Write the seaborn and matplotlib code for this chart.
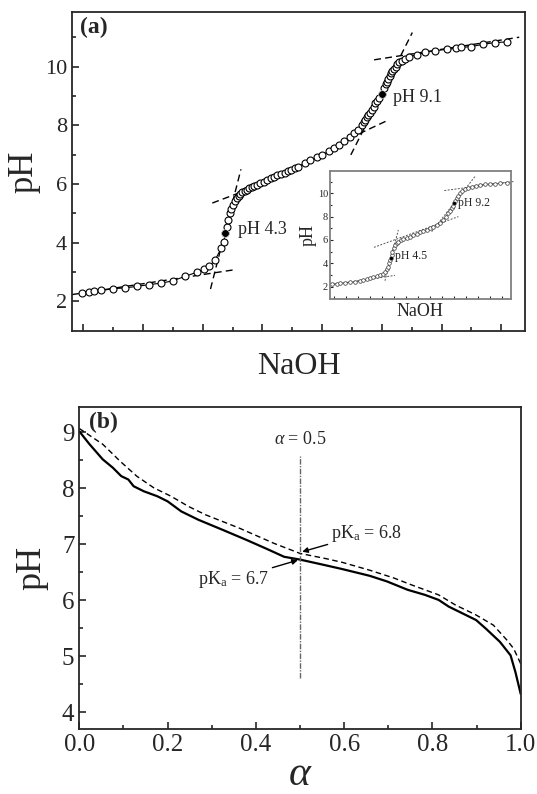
import numpy as np
import pandas as pd
import matplotlib
matplotlib.use("Agg")
import matplotlib.pyplot as plt
import seaborn as sns

# ---- data: (a) titration curve (NaOH in arbitrary units, pH) ----
naoh = [-0.02, 0.09, 0.18, 0.30, 0.50, 0.70, 0.90, 1.10, 1.30, 1.50, 1.70, 1.90,
        2.02, 2.11, 2.21, 2.31, 2.35, 2.38, 2.41, 2.43, 2.45, 2.48, 2.51, 2.54,
        2.57, 2.60, 2.63, 2.66, 2.70, 2.74, 2.78, 2.82, 2.86, 2.91, 2.96, 3.02,
        3.08, 3.14, 3.20, 3.25, 3.31, 3.37, 3.43, 3.48, 3.54, 3.60, 3.71, 3.80,
        3.91, 4.00, 4.11, 4.20, 4.29, 4.37, 4.46, 4.54, 4.60, 4.66, 4.70, 4.72,
        4.75, 4.77, 4.80, 4.83, 4.86, 4.89, 4.92, 4.95, 5.00, 5.04, 5.07, 5.09,
        5.11, 5.13, 5.15, 5.17, 5.20, 5.23, 5.26, 5.29, 5.33, 5.38, 5.46, 5.58,
        5.72, 5.89, 6.09, 6.24, 6.32, 6.49, 6.70, 6.90, 7.10]
ph_a = [2.30, 2.33, 2.34, 2.37, 2.43, 2.46, 2.51, 2.57, 2.62, 2.70, 2.85, 2.99,
        3.10, 3.19, 3.42, 3.81, 4.01, 4.32, 4.55, 4.78, 5.00, 5.15, 5.30, 5.42,
        5.52, 5.60, 5.66, 5.71, 5.76, 5.80, 5.85, 5.89, 5.93, 5.97, 6.02, 6.08,
        6.14, 6.19, 6.24, 6.29, 6.34, 6.39, 6.44, 6.48, 6.54, 6.59, 6.71, 6.80,
        6.91, 6.99, 7.11, 7.22, 7.33, 7.45, 7.59, 7.73, 7.84, 8.01, 8.10, 8.18,
        8.27, 8.35, 8.43, 8.52, 8.63, 8.75, 8.84, 8.92, 9.06, 9.26, 9.40, 9.49,
        9.59, 9.68, 9.77, 9.85, 9.93, 10.00, 10.08, 10.14, 10.20, 10.25, 10.34, 10.40,
        10.48, 10.54, 10.59, 10.62, 10.65, 10.68, 10.76, 10.82, 10.84]
eq_naoh = [2.38, 5.00]
eq_ph = [4.32, 9.06]
eq_labels = ["pH 4.3", "pH 9.1"]
# tangent segments (x0, x1), (y0, y1)
tan_x = [(-0.19, 2.54), (2.13, 2.64), (2.16, 2.85), (4.45, 5.09), (4.48, 5.51), (4.87, 7.30)]
tan_y = [(2.23, 3.08), (2.42, 6.50), (5.35, 5.88), (7.55, 8.16), (6.99, 11.16), (10.23, 11.00)]

# ---- inset ----
ins_x = [-0.22, 0.20, 0.47, 0.90, 1.31, 1.72, 2.14, 2.42, 2.70, 2.98, 3.26, 3.54,
         3.82, 4.05, 4.23, 4.40, 4.51, 4.60, 4.65, 4.74, 4.80, 4.85, 4.95, 5.07,
         5.20, 5.35, 5.55, 5.77, 6.05, 6.32, 6.60, 6.88, 7.16, 7.44, 7.72, 8.00,
         8.28, 8.55, 8.85, 9.11, 9.32, 9.53, 9.68, 9.81, 9.90, 10.00, 10.11, 10.22,
         10.36, 10.50, 10.70, 10.92, 11.20, 11.48, 11.80, 12.17, 12.58, 13.00, 13.42,
         13.84, 14.40]
ins_ph = [2.23, 2.26, 2.29, 2.33, 2.37, 2.43, 2.49, 2.55, 2.63, 2.71, 2.80, 2.90,
          3.00, 3.12, 3.29, 3.50, 3.71, 4.00, 4.29, 4.49, 4.75, 5.00, 5.30, 5.57,
          5.73, 5.86, 5.97, 6.06, 6.18, 6.29, 6.40, 6.51, 6.64, 6.77, 6.88, 7.00,
          7.14, 7.29, 7.48, 7.71, 7.98, 8.29, 8.50, 8.71, 8.92, 9.14, 9.36, 9.57,
          9.80, 10.00, 10.20, 10.34, 10.47, 10.57, 10.65, 10.71, 10.76, 10.80, 10.83,
          10.86, 10.91]
ins_eq_x = [4.74, 10.00]
ins_eq_ph = [4.49, 9.14]
ins_labels = ["pH 4.5", "pH 9.2"]
ins_tan_x = [(-0.08, 5.07), (4.23, 5.35), (3.31, 10.36), (8.13, 11.75), (9.19, 14.96)]
ins_tan_y = [(2.20, 2.97), (2.51, 6.86), (5.37, 8.00), (6.71, 11.43), (10.23, 11.00)]

# ---- (b) pH vs degree of neutralisation ----
alpha_s = [0.0, 0.022, 0.053, 0.076, 0.095, 0.111, 0.123, 0.146, 0.177, 0.2, 0.231,
           0.27, 0.325, 0.379, 0.425, 0.464, 0.5, 0.557, 0.596, 0.658, 0.697, 0.744,
           0.783, 0.814, 0.837, 0.868, 0.899, 0.922, 0.953, 0.977, 0.988, 1.0]
ph_s = [9.02, 8.80, 8.52, 8.37, 8.22, 8.16, 8.04, 7.95, 7.86, 7.77, 7.59,
        7.44, 7.26, 7.08, 6.92, 6.78, 6.73, 6.63, 6.56, 6.44, 6.34, 6.19,
        6.10, 6.01, 5.89, 5.77, 5.65, 5.49, 5.26, 5.02, 4.72, 4.33]
alpha_d = [0.0, 0.053, 0.092, 0.13, 0.169, 0.208, 0.247, 0.286, 0.363, 0.441, 0.5,
           0.557, 0.596, 0.658, 0.713, 0.752, 0.814, 0.852, 0.899, 0.938, 0.969,
           0.984, 1.0]
ph_d = [9.07, 8.79, 8.49, 8.22, 8.01, 7.86, 7.68, 7.53, 7.29, 7.02, 6.84,
        6.75, 6.68, 6.54, 6.40, 6.28, 6.10, 5.92, 5.74, 5.56, 5.29,
        5.14, 4.87]

sns.set_style("ticks")
plt.rcParams["font.family"] = ["Liberation Serif", "DejaVu Serif"]
plt.rcParams["mathtext.fontset"] = "custom"
plt.rcParams["mathtext.rm"] = "Liberation Serif"
plt.rcParams["mathtext.it"] = "Liberation Serif:italic"
plt.rcParams["xtick.direction"] = "in"
plt.rcParams["ytick.direction"] = "in"

fig = plt.figure(figsize=(5.37, 7.94), dpi=100)

# ===== panel (a) =====
ax = fig.add_axes([0.134, 0.5835, 0.844, 0.4014])
for (x0, x1), (y0, y1) in zip(tan_x, tan_y):
    sns.lineplot(x=[x0, x1], y=[y0, y1], ax=ax, color="k", lw=1.0,
                 linestyle=(0, (5, 3)), sort=False, estimator=None)
sns.lineplot(x=naoh, y=ph_a, ax=ax, color="k", lw=0.8, marker="o", markersize=5,
             mfc="white", mec="k", mew=0.8, sort=False, estimator=None)
sns.scatterplot(x=eq_naoh, y=eq_ph, ax=ax, color="k", s=30, zorder=5)
ax.text(eq_naoh[0] + 0.21, eq_ph[0] + 0.12, eq_labels[0], fontsize=13, va="center")
ax.text(eq_naoh[1] + 0.19, eq_ph[1] - 0.1, eq_labels[1], fontsize=13, va="center")
ax.set_xlim(-0.19, 7.40)
ax.set_ylim(1.0, 11.86)
ax.set_xticks(np.arange(0, 8))
ax.set_xticks(np.arange(0.5, 7.5, 1), minor=True)
ax.set_yticks([2, 4, 6, 8, 10])
ax.set_yticks([3, 5, 7, 9, 11], minor=True)
ax.set_xticklabels([])
ax.tick_params(axis="both", which="major", length=5, width=1.2, labelsize=16)
ax.tick_params(axis="both", which="minor", length=3, width=1.2)
ax.tick_params(top=False, right=False)
ax.set_xlabel("NaOH", fontsize=23, labelpad=12)
ax.set_ylabel("pH", fontsize=25)
ax.yaxis.set_label_coords(-0.07, 0.5)
ax.text(0.018, 0.985, "(a)", transform=ax.transAxes, fontsize=17,
        fontweight="bold", va="top", ha="left")
for s in ax.spines.values():
    s.set_linewidth(1.3)

# ----- inset -----
axi = fig.add_axes([0.6145, 0.623, 0.3365, 0.1616])
for (x0, x1), (y0, y1) in zip(ins_tan_x, ins_tan_y):
    sns.lineplot(x=[x0, x1], y=[y0, y1], ax=axi, color="#555555", lw=0.7,
                 linestyle=(0, (2, 1.5)), sort=False, estimator=None, clip_on=False)
sns.lineplot(x=ins_x, y=ins_ph, ax=axi, color="#444444", lw=0.5, marker="o",
             markersize=2.6, mfc="white", mec="#333333", mew=0.5,
             sort=False, estimator=None)
sns.scatterplot(x=ins_eq_x, y=ins_eq_ph, ax=axi, color="k", s=8, zorder=5)
axi.text(ins_eq_x[0] + 0.35, ins_eq_ph[0] + 0.1, ins_labels[0], fontsize=8.5, va="center")
axi.text(ins_eq_x[1] + 0.3, ins_eq_ph[1] + 0.05, ins_labels[1], fontsize=8.5, va="center")
axi.set_xlim(-0.36, 14.73)
axi.set_ylim(0.92, 11.9)
axi.set_xticks(np.arange(0, 15))
axi.set_xticklabels([])
axi.set_yticks([2, 4, 6, 8, 10])
axi.set_yticks([3, 5, 7, 9, 11], minor=True)
axi.tick_params(axis="both", which="major", length=2.5, width=0.8, labelsize=7.5, pad=1.5)
axi.tick_params(axis="both", which="minor", length=1.5, width=0.8)
axi.set_xlabel("NaOH", fontsize=13, labelpad=1)
axi.set_ylabel("pH", fontsize=13, labelpad=1)
for s in axi.spines.values():
    s.set_linewidth(1.3)
    s.set_color("#808080")

# ===== panel (b) =====
bx = fig.add_axes([0.1477, 0.0815, 0.822, 0.4063])
sns.lineplot(x=alpha_s, y=ph_s, ax=bx, color="k", lw=1.6, sort=False, estimator=None)
sns.lineplot(x=alpha_d, y=ph_d, ax=bx, color="k", lw=1.0, linestyle=(0, (4, 2.5)),
             sort=False, estimator=None)
sns.lineplot(x=[0.5, 0.5], y=[4.62, 8.58], ax=bx, color="#666666", lw=1.0,
             linestyle=(0, (4, 1, 1, 1)), sort=False, estimator=None)
bx.text(0.5, 8.88, r"$\alpha$ = 0.5", fontsize=13, ha="center", va="center")
bx.annotate(r"pK$_\mathrm{a}$ = 6.8", xy=(0.505, 6.87), xytext=(0.57, 7.2),
            fontsize=13, va="center", ha="left",
            arrowprops=dict(arrowstyle="-|>", color="k", lw=1.0,
                            mutation_scale=8, shrinkA=0, shrinkB=0))
bx.annotate(r"pK$_\mathrm{a}$ = 6.7", xy=(0.495, 6.72), xytext=(0.43, 6.38),
            fontsize=13, va="center", ha="right",
            arrowprops=dict(arrowstyle="-|>", color="k", lw=1.0,
                            mutation_scale=8, shrinkA=0, shrinkB=0))
bx.set_xlim(0, 1)
bx.set_ylim(3.7, 9.46)
bx.set_xticks(np.arange(0, 1.01, 0.2))
bx.set_xticks(np.arange(0.1, 1.0, 0.2), minor=True)
bx.set_xticklabels(["0.0", "0.2", "0.4", "0.6", "0.8", "1.0"])
bx.set_yticks([4, 5, 6, 7, 8, 9])
bx.set_yticks([4.5, 5.5, 6.5, 7.5, 8.5], minor=True)
bx.tick_params(axis="both", which="major", length=5, width=1.2, labelsize=18)
bx.tick_params(axis="both", which="minor", length=3, width=1.2)
bx.set_xlabel(r"$\alpha$", fontsize=30, labelpad=0)
bx.xaxis.set_label_coords(0.5, -0.082)
bx.set_ylabel("pH", fontsize=26)
bx.yaxis.set_label_coords(-0.071, 0.5)
bx.text(0.022, 0.985, "(b)", transform=bx.transAxes, fontsize=17,
        fontweight="bold", va="top", ha="left")
for s in bx.spines.values():
    s.set_linewidth(1.3)

for a in (ax, axi, bx):
    leg = a.get_legend()
    if leg is not None:
        leg.remove()

fig.savefig("out.png", dpi=100)
